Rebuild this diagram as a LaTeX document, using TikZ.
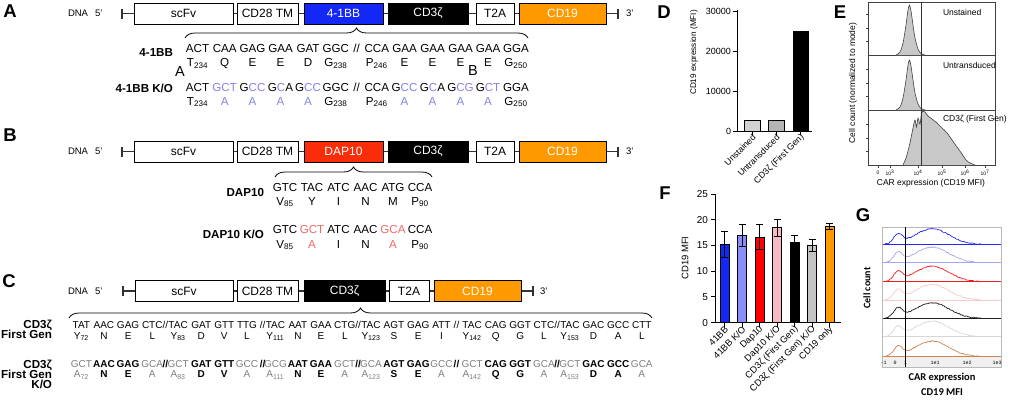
\documentclass[tikz,border=0pt]{standalone}
\usepackage{fontspec}
\setmainfont{Liberation Sans}
\newfontfamily\calfont{Carlito}
\newfontfamily\tickfont{Liberation Mono}
\usetikzlibrary{decorations.pathreplacing}

\definecolor{bbblue}{RGB}{20,40,245}
\definecolor{bbko}{RGB}{135,130,235}
\definecolor{dapred}{RGB}{250,45,10}
\definecolor{dapko}{RGB}{240,105,100}
\definecolor{cdgray}{RGB}{125,125,125}
\definecolor{cdorange}{RGB}{255,153,0}
\definecolor{fko}{RGB}{140,140,250}
\definecolor{fpink}{RGB}{248,185,195}
\definecolor{fgray}{RGB}{195,195,195}
\definecolor{hgray}{RGB}{200,200,200}
\definecolor{gblue}{RGB}{40,40,240}
\definecolor{glblue}{RGB}{165,165,245}
\definecolor{gred}{RGB}{240,30,30}
\definecolor{gpink}{RGB}{248,200,200}
\definecolor{gblack}{RGB}{30,30,30}
\definecolor{glgray}{RGB}{215,215,215}
\definecolor{gorange}{RGB}{205,130,80}

\newcommand{\fsize}[1]{\fontsize{#1}{#1}\selectfont}
\newcommand{\kb}[1]{\textcolor{bbko}{#1}}
\newcommand{\kr}[1]{\textcolor{dapko}{#1}}
\newcommand{\kg}[1]{\textcolor{cdgray}{\mdseries #1}}

\begin{document}
\begin{tikzpicture}[x=1pt, y=-1pt,
    every node/.style={inner sep=0pt, outer sep=0pt},
    seg/.style={draw=black, line width=0.9pt, minimum height=21pt, font=\fsize{12}},
    seq/.style={anchor=base, font=\fsize{11.6}},
    seqc/.style={anchor=base, font=\fsize{10}},
    rowlabel/.style={anchor=base east, font=\bfseries\fsize{11.6}},
    panel/.style={font=\bfseries\fsize{18.5}},
    bkbone/.style={line width=1.3pt, black!80},
    brc/.style={decorate, decoration={brace, amplitude=10pt}, line width=0.8pt},
    axis/.style={line width=1pt},
    ticklab/.style={anchor=east, font=\fsize{9}},
    xlab/.style={anchor=east, rotate=45, font=\fsize{8.8}},
    bar/.style={draw=black, line width=1pt}
]
\useasboundingbox (0,0) rectangle (1010,402);

% Panel letters
\node[panel] (pa) at (10,11.5) {A};
\node[panel] (pb) at (10,135) {B};
\node[panel] (pc) at (9,281) {C};
\node[panel] (pd) at (664,11.7) {D};
\node[panel] (pe) at (840,11.7) {E};
\node[panel] (pf) at (665,193) {F};
\node[panel] (pg) at (863,215.5) {G};

% Constructs A and B
\foreach \p/\yc/\dom/\col in {a/13.5/4-1BB/bbblue, b/151.5/DAP10/dapred}{
    \coordinate (five-\p) at (122,\yc);
    \coordinate (three-\p) at (618,\yc);
    \draw[bkbone] (five-\p) -- (three-\p);
    \draw[bkbone] ([yshift=5pt]five-\p) -- ([yshift=-5pt]five-\p);
    \draw[bkbone] ([yshift=5pt]three-\p) -- ([yshift=-5pt]three-\p);
    \node[anchor=base west, font=\fsize{9.5}] (dna-\p) at (68,\yc+3.4) {DNA\hspace{7pt}5'};
    \node[seg, fill=white, minimum width=99pt] (scfv-\p) at (183.5,\yc) {scFv};
    \node[seg, fill=white, minimum width=61pt] (tm-\p) at (267.5,\yc) {CD28 TM};
    \node[seg, fill=\col, text=white, minimum width=79pt] (dom-\p) at (343.5,\yc) {\dom};
    \node[seg, fill=black, text=white, minimum width=80pt] (zeta-\p) at (428,\yc) {CD3ζ};
    \node[seg, fill=white, minimum width=38pt] (t2a-\p) at (495,\yc) {T2A};
    \node[seg, fill=cdorange, text=white, minimum width=87pt] (cd19-\p) at (562.5,\yc) {CD19};
    \node[anchor=base west, font=\fsize{9.5}] (tp-\p) at (626,\yc+3.4) {3'};
}

% Construct C
\coordinate (five-c) at (123,291);
\coordinate (three-c) at (533,291);
\draw[bkbone] (five-c) -- (three-c);
\draw[bkbone] ([yshift=5pt]five-c) -- ([yshift=-5pt]five-c);
\draw[bkbone] ([yshift=5pt]three-c) -- ([yshift=-5pt]three-c);
\node[anchor=base west, font=\fsize{9.5}] (dna-c) at (68,294.4) {DNA\hspace{7pt}5'};
\node[seg, fill=white, minimum width=98pt, minimum height=21.5pt] (scfv-c) at (184,291) {scFv};
\node[seg, fill=white, minimum width=61pt, minimum height=21.5pt] (tm-c) at (267.5,291) {CD28 TM};
\node[seg, fill=black, text=white, minimum width=81pt, minimum height=21.5pt] (zeta-c) at (344.5,291) {CD3ζ};
\node[seg, fill=white, minimum width=40pt, minimum height=21.5pt] (t2a-c) at (409,291) {T2A};
\node[seg, fill=cdorange, text=white, minimum width=87pt, minimum height=21.5pt] (cd19-c) at (477.5,291) {CD19};
\node[anchor=base west, font=\fsize{9.5}] (tp-c) at (540,294.4) {3'};

% Braces
\coordinate (bral-a) at (185,38);
\coordinate (brar-a) at (528,38);
\draw[brc] (bral-a) -- (brar-a);
\coordinate (bral-b) at (275,177);
\coordinate (brar-b) at (432,177);
\draw[brc] (bral-b) -- (brar-b);
\coordinate (bral-c) at (69,318);
\coordinate (brar-c) at (652,318);
\draw[brc] (bral-c) -- (brar-c);

% 4-1BB sequences
\node[rowlabel] (lab41bb) at (173,56.5) {4-1BB};
\node[rowlabel] (lab41ko) at (173,92.5) {4-1BB K/O};
\foreach \x/\c/\a/\k/\ka [count=\i] in {
    197.5/ACT/T\textsubscript{234}/ACT/T\textsubscript{234},
    224.7/CAA/Q/\kb{GCT}/\kb{A},
    252.5/GAG/E/G\kb{CC}/\kb{A},
    280.5/GAA/E/G\kb{C}A/\kb{A},
    308/GAT/D/G\kb{CC}/\kb{A},
    335.8/GGC/G\textsubscript{238}/GGC/G\textsubscript{238},
    376.8/CCA/P\textsubscript{246}/CCA/P\textsubscript{246},
    404.5/GAA/E/G\kb{CC}/\kb{A},
    432.5/GAA/E/G\kb{C}A/\kb{A},
    460.5/GAA/E/G\kb{CG}/\kb{A},
    488/GAA/E/G\kb{CT}/\kb{A},
    516/GGA/G\textsubscript{250}/GGA/G\textsubscript{250}}{
    \node[seq] (bbcod\i) at (\x,52.7) {\c};
    \node[seq] (bbaa\i) at (\x,66.7) {\a};
    \node[seq] (bkcod\i) at (\x,91.7) {\k};
    \node[seq] (bkaa\i) at (\x,105) {\ka};
}
\node[seq] (bbsl) at (356.7,52.7) {//};
\node[seq] (bksl) at (356.7,91.7) {//};
\node[anchor=base, font=\fsize{14.5}] (strayA) at (180,76) {A};
\node[anchor=base, font=\fsize{14.5}] (strayB) at (473,75) {B};

% DAP10 sequences
\node[rowlabel] (labdap) at (264,196.5) {DAP10};
\node[rowlabel] (labdko) at (264,238) {DAP10 K/O};
\foreach \x/\c/\a/\k/\ka [count=\i] in {
    285/GTC/V\textsubscript{85}/GTC/V\textsubscript{85},
    312/TAC/Y/\kr{GCT}/\kr{A},
    338.5/ATC/I/ATC/I,
    365.5/AAC/N/AAC/N,
    393/ATG/M/\kr{GCA}/\kr{A},
    420/CCA/P\textsubscript{90}/CCA/P\textsubscript{90}}{
    \node[seq] (dpcod\i) at (\x,191.7) {\c};
    \node[seq] (dpaa\i) at (\x,205) {\a};
    \node[seq] (dkcod\i) at (\x,233.3) {\k};
    \node[seq] (dkaa\i) at (\x,248) {\ka};
}

% CD3z sequences
\node[rowlabel] (labz1) at (52,328) {CD3ζ};
\node[rowlabel] (labz2) at (52,338.5) {First Gen};
\node[rowlabel] (labk1) at (52,368) {CD3ζ};
\node[rowlabel] (labk2) at (52,378) {First Gen};
\node[rowlabel] (labk3) at (52,388.3) {K/O};
\foreach \x/\c/\a/\k/\ka [count=\i] in {
    81.4/TAT/Y\textsubscript{72}/\kg{GCT}/\kg{A\textsubscript{72}},
    103.9/AAC/N/AAC/N,
    128.1/GAG/E/GAG/E,
    152.3/CTC/L/\kg{GCA}/\kg{A},
    178.1/TAC/Y\textsubscript{83}/\kg{GCT}/\kg{A\textsubscript{83}},
    201.2/GAT/D/GAT/D,
    224.3/GTT/V/GTT/V,
    247.0/TTG/L/\kg{GCC}/\kg{A},
    275.4/TAC/Y\textsubscript{111}/\kg{GCG}/\kg{A\textsubscript{111}},
    297.9/AAT/N/AAT/N,
    320.9/GAA/E/GAA/E,
    344.8/CTG/L/\kg{GCT}/\kg{A},
    371.0/TAC/Y\textsubscript{123}/\kg{GCA}/\kg{A\textsubscript{123}},
    394.0/AGT/S/AGT/S,
    418.2/GAG/E/GAG/E,
    441.5/ATT/I/\kg{GCC}/\kg{A},
    472.1/TAC/Y\textsubscript{142}/\kg{GCT}/\kg{A\textsubscript{142}},
    495.7/CAG/Q/CAG/Q,
    520.2/GGT/G/GGT/G,
    544.0/CTC/L/\kg{GCA}/\kg{A},
    569.9/TAC/Y\textsubscript{153}/\kg{GCT}/\kg{A\textsubscript{153}},
    593.5/GAC/D/GAC/D,
    618.2/GCC/A/GCC/A,
    641.8/CTT/L/\kg{GCA}/\kg{A}}{
    \node[seqc] (zcod\i) at (\x,328) {\c};
    \node[seqc] (zaa\i) at (\x,339) {\a};
    \node[seqc, font=\bfseries\fsize{10}] (zkcod\i) at (\x,367.5) {\k};
    \node[seqc, font=\bfseries\fsize{10}] (zkaa\i) at (\x,377.5) {\ka};
}
\foreach \x [count=\i] in {165.4,262.6,358.2,456.5,557.1}{
    \node[seqc] (zsl\i) at (\x,328) {//};
    \node[seqc, font=\bfseries\fsize{10}] (zksl\i) at (\x,367.5) {//};
}

% Panel D
\coordinate (dorig) at (737,131);
\draw[axis] (737,10) -- (dorig) -- (812,131);
\foreach \v in {0,10,20,30}{
    \draw[axis] (733,131-\v*3.977) -- (737,131-\v*3.977);
    \node[ticklab] (dt\v) at (731,131-\v*3.977) {\ifnum\v=0 0\else\v000\fi};
}
\node[rotate=90, font=\fsize{8.2}] (dytitle) at (694,52.5) {CD19 expression (MFI)};
\draw[bar, fill=gray!35] (744,131) rectangle (760,120);
\draw[bar, fill=gray!95!black!55] (768,131) rectangle (784,120);
\draw[bar, fill=black] (793,131) rectangle (808,31.6);
\foreach \x/\lab [count=\i] in {752/Unstained, 776/Untransduced, 800.5/CD3ζ (First Gen)}{
    \draw[axis] (\x,131) -- (\x,135);
    \node[xlab] (dlab\i) at (\x+2,136) {\lab};
}

% Panel E
\draw[gray!50!black, line width=0.6pt] (868,2) rectangle (995,165);
\draw[gray!50!black, line width=0.6pt] (868,55) -- (995,55) (868,110) -- (995,110);
\foreach \b in {55,110}{
    \begin{scope}[shift={(0,\b)}]
        \draw[fill=hgray, draw=gray!50!black, line width=0.6pt] plot[smooth] coordinates {(896,0) (900,-3) (903,-12) (906,-30) (908,-45) (909.5,-50) (911,-44) (913,-30) (915,-17) (918,-6) (921,-1.5) (925,0)};
    \end{scope}
}
\begin{scope}[shift={(0,165)}]
    \draw[fill=hgray, draw=gray!50!black, line width=0.6pt] plot[smooth] coordinates {(903,0) (906,-7) (909,-18) (911,-27) (913,-37) (915,-45) (916.5,-38) (918,-47) (920,-41) (921.5,-52) (923,-54) (925,-53) (928,-49) (932,-46) (937,-42) (942,-37) (947,-32) (952,-25) (957,-18) (962,-11) (966,-5) (970,-2) (975,0)};
\end{scope}
\draw[gray!40!black, line width=0.7pt] (921,2) -- (921,165);
\foreach \t in {14,28,41,69,83,96,124,138,151}{
    \draw[gray!50!black, line width=0.5pt] (865.5,\t) -- (868,\t);
}
\foreach \x/\lab [count=\i] in {878/0, 890/10\textsuperscript{3}, 918/10\textsuperscript{4}, 942/10\textsuperscript{5}, 965/10\textsuperscript{6}, 985/10\textsuperscript{7}}{
    \draw[gray!50!black, line width=0.6pt] (\x,165) -- (\x,168);
    \node[font=\fsize{5}] (et\i) at (\x,173) {\lab};
}
\node[anchor=base west, font=\fsize{8.5}] (eun) at (943,15) {Unstained};
\node[anchor=base west, font=\fsize{8.5}] (eut) at (943,68.3) {Untransduced};
\node[anchor=base west, font=\fsize{8.5}] (ecd) at (943,121) {CD3ζ (First Gen)};
\node[rotate=90, font=\fsize{8.5}] (eytitle) at (853,83) {Cell count (normalized to mode)};
\node[font=\fsize{8.5}] (extitle) at (931,183.5) {CAR expression (CD19 MFI)};

% Panel F
\draw[axis] (715,194) -- (715,322.7) -- (841,322.7);
\foreach \v in {0,5,10,15,20,25}{
    \draw[axis] (711,322.7-\v*5.148) -- (715,322.7-\v*5.148);
    \node[ticklab, font=\fsize{10}] (ft\v) at (708,322.7-\v*5.148) {\v};
}
\node[rotate=90, font=\fsize{9.5}] (fytitle) at (685,258) {CD19 MFI};
\foreach \x/\v/\sd/\col/\lab [count=\i] in {
    724.5/15.2/2.5/bbblue/{41BB},
    742/17.0/2.1/fko/{41BB K/O},
    759.5/16.6/2.4/red/{Dap10},
    777/18.4/1.6/fpink/{Dap10 K/O},
    794.5/15.6/1.3/black/{CD3ζ (First Gen)},
    812/15.0/1.1/fgray/{CD3ζ (First Gen) K/O},
    829.5/18.7/0.6/cdorange/{CD19 only}}{
    \draw[bar, fill=\col] (\x-4.5,322.7) rectangle (\x+4.5,{322.7-\v*5.148});
    \draw[line width=0.8pt] (\x,{322.7-(\v-\sd)*5.148}) -- (\x,{322.7-(\v+\sd)*5.148});
    \draw[line width=0.8pt] (\x-3.5,{322.7-(\v-\sd)*5.148}) -- (\x+3.5,{322.7-(\v-\sd)*5.148});
    \draw[line width=0.8pt] (\x-3.5,{322.7-(\v+\sd)*5.148}) -- (\x+3.5,{322.7-(\v+\sd)*5.148});
    \draw[axis] (\x,322.7) -- (\x,326.5);
    \node[xlab, font=\fsize{9.3}] (flab\i) at (\x+2,328) {\lab};
}

% Panel G
\fill[gray!12] (882,357) rectangle (1001,367);
\pgfmathsetseed{7}
\foreach \b/\col in {244.3/gblue, 262.7/glblue, 281.7/gred, 300/gpink, 318.3/gblack, 336.7/glgray, 356.7/gorange}{
    \draw[\col, line width=0.8pt] (882,\b) -- (1001,\b);
    \draw[\col, line width=0.7pt] plot[domain=885:981, samples=97]
        (\x, {\b-15.5*exp(-min(((\x-932)/24)^2,9))-9*exp(-min(((\x-898)/6)^2,9))+0.5*rand});
}
\draw[gray!55, line width=0.6pt] (882,227) rectangle (1001,367);
\draw[black, line width=1pt] (905.7,227) -- (905.7,367);
\foreach \x/\lab [count=\i] in {883.5/-1, 895/0, 905.7/1, 935/1e1, 967/1e2, 997/1e3}{
    \node[font=\tickfont\fsize{5}] (gt\i) at (\x,362.5) {\lab};
}
\node[rotate=90, font=\calfont\bfseries\fsize{10}] (gytitle) at (867,288) {Cell count};
\node[font=\calfont\bfseries\fsize{10.5}] (gx1) at (942,378) {CAR expression};
\node[font=\calfont\bfseries\fsize{10.5}] (gx2) at (942,392) {CD19 MFI};

\end{tikzpicture}
\end{document}
